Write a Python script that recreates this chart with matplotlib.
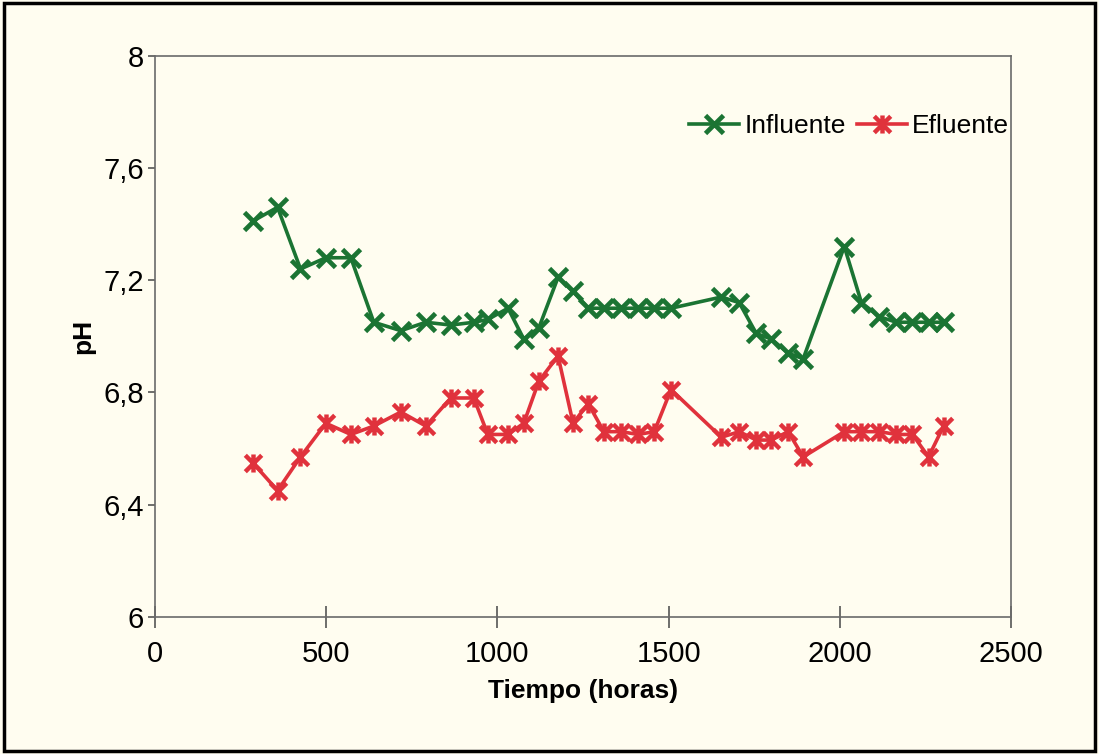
import numpy as np
import matplotlib
import matplotlib.pyplot as plt
from matplotlib.path import Path
from matplotlib.patches import Rectangle

matplotlib.use('Agg')

# tiempo de muestreo (horas), comun a las dos series
tiempo = [285, 358, 425, 499, 572, 639, 718, 791, 864, 931, 972, 1031, 1077, 1121,
          1177, 1221, 1265, 1311, 1361, 1411, 1458, 1507, 1654, 1706, 1756, 1800,
          1849, 1893, 2013, 2063, 2115, 2165, 2212, 2259, 2303]

influente = [7.41, 7.46, 7.24, 7.28, 7.28, 7.05, 7.02, 7.05, 7.04, 7.05, 7.06, 7.10,
             6.99, 7.03, 7.21, 7.16, 7.10, 7.10, 7.10, 7.10, 7.10, 7.10, 7.14, 7.12,
             7.01, 6.99, 6.94, 6.92, 7.32, 7.12, 7.07, 7.05, 7.05, 7.05, 7.05]

efluente = [6.55, 6.45, 6.57, 6.69, 6.65, 6.68, 6.73, 6.68, 6.78, 6.78, 6.65, 6.65,
            6.69, 6.84, 6.93, 6.69, 6.76, 6.66, 6.66, 6.65, 6.66, 6.81, 6.64, 6.66,
            6.63, 6.63, 6.66, 6.57, 6.66, 6.66, 6.66, 6.65, 6.65, 6.57, 6.68]

xticks = [0, 500, 1000, 1500, 2000, 2500]
yticks = [6, 6.4, 6.8, 7.2, 7.6, 8]
ytick_labels = ["6", "6,4", "6,8", "7,2", "7,6", "8"]

plt.rcParams['font.family'] = ['Liberation Sans Narrow', 'Liberation Sans', 'DejaVu Sans']

verde = "#1b7433"
rojo = "#e0323c"
fondo = "#fffdf0"

# marcador tipo asterisco (x con barra vertical)
M, L = Path.MOVETO, Path.LINETO
asterisco = Path([(-1, -1), (1, 1), (-1, 1), (1, -1), (0, -1.1), (0, 1.1)],
                 [M, L, M, L, M, L])

fig = plt.figure(figsize=(10.99, 7.54), dpi=100, facecolor=fondo)
ax = fig.add_axes([0.141, 0.182, 0.779, 0.744], facecolor=fondo)

ax.plot(tiempo, influente, color=verde, lw=2.6, marker='x', ms=13, mew=3.4,
        label="Influente")
ax.plot(tiempo, efluente, color=rojo, lw=2.6, marker=asterisco, ms=13, mew=3.2,
        label="Efluente")

ax.set_xlim(0, 2500)
ax.set_ylim(6, 8)
ax.set_xticks(xticks)
ax.set_yticks(yticks)
ax.set_yticklabels(ytick_labels)

for s in ax.spines.values():
    s.set_color("#6a6a6a")
    s.set_linewidth(1.2)

ax.tick_params(axis='x', direction='inout', length=16, width=1.2, color="#555555",
               labelsize=21, pad=9)
ax.tick_params(axis='y', direction='out', length=5, width=1.2, color="#555555",
               labelsize=21, pad=3)

ax.set_xlabel("Tiempo (horas)", fontsize=19, fontweight='bold', labelpad=8)
ax.set_ylabel("pH", fontsize=19, fontweight='bold', labelpad=6)

ax.legend(loc='upper right', bbox_to_anchor=(1.01, 0.915), ncol=2, frameon=False,
          fontsize=19, handlelength=1.9, handletextpad=0.2, columnspacing=0.4,
          borderaxespad=0)

# marco exterior
fig.patches.append(Rectangle((0.004, 0.004), 0.992, 0.992, transform=fig.transFigure,
                             fill=False, edgecolor="black", lw=2.5))

fig.savefig("out.png", dpi=100, facecolor=fondo)
